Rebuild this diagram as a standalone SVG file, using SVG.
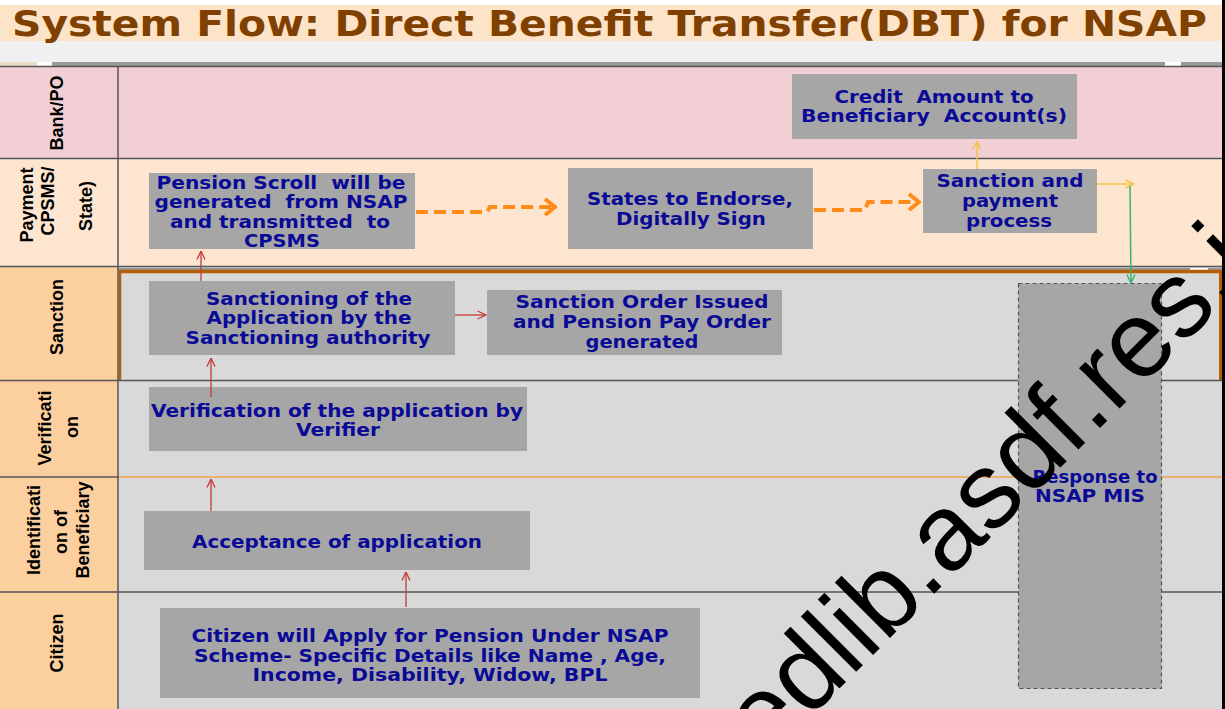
<svg xmlns="http://www.w3.org/2000/svg" width="1225" height="709" viewBox="0 0 1225 709">
<style>
.lbl{font-family:"Liberation Sans",Arial,sans-serif;font-weight:bold;font-size:18px;fill:#000;text-anchor:middle}
.box{fill:#a6a6a6}
.nt{font-family:"DejaVu Sans",Verdana,sans-serif;font-weight:bold;font-size:17px;fill:#0a0a96;text-anchor:middle;white-space:pre}
.sep{stroke:#555;stroke-width:1.5}
.red{fill:none;stroke:#c23b3b;stroke-width:1.3}
.org{fill:none;stroke:#ff8c1a;stroke-width:4;stroke-dasharray:12 6}
.yel{fill:none;stroke:#f5c342;stroke-width:1.5}
.grn{fill:none;stroke:#3cb371;stroke-width:1.5}
</style>
<defs>
<marker id="mRed" viewBox="0 0 10 10" refX="9.5" refY="5" markerWidth="10" markerHeight="10" markerUnits="userSpaceOnUse" orient="auto"><path d="M1,1 L9.5,5 L1,9" fill="none" stroke="#c23b3b" stroke-width="1.3"/></marker>
<marker id="mYel" viewBox="0 0 10 10" refX="9.5" refY="5" markerWidth="10" markerHeight="10" markerUnits="userSpaceOnUse" orient="auto"><path d="M1,1 L9.5,5 L1,9" fill="none" stroke="#f5c342" stroke-width="1.5"/></marker>
<marker id="mGrn" viewBox="0 0 10 10" refX="9.5" refY="5" markerWidth="10" markerHeight="10" markerUnits="userSpaceOnUse" orient="auto"><path d="M1,1 L9.5,5 L1,9" fill="none" stroke="#3cb371" stroke-width="1.5"/></marker>
<marker id="mOrg" viewBox="0 0 14 20" refX="12" refY="10" markerWidth="14" markerHeight="20" markerUnits="userSpaceOnUse" orient="auto"><path d="M2,2 L12,10 L2,18" fill="none" stroke="#ff8c1a" stroke-width="4" stroke-dasharray="none" stroke-linejoin="miter"/></marker>
</defs>

<!-- page background -->
<rect x="0" y="0" width="1225" height="709" fill="#ffffff"/>
<rect x="0" y="5" width="1222" height="36" fill="#fde3c8"/>
<rect x="0" y="41" width="1222" height="21" fill="#f0f0f0"/>
<rect x="0" y="62" width="1222" height="4" fill="#9a9a9a"/>
<rect x="0" y="62" width="37" height="4" fill="#e8dcc6"/>
<rect x="37" y="62" width="15" height="4" fill="#ffffff"/>
<rect x="1165" y="62" width="16" height="4" fill="#ffffff"/>
<text x="12" y="36" textLength="1195" lengthAdjust="spacingAndGlyphs" style="font-family:'DejaVu Sans',Verdana,sans-serif;font-weight:bold;font-size:36px;fill:#7f4000">System Flow: Direct Benefit Transfer(DBT) for NSAP</text>

<!-- lanes -->
<g id="lanes">
<rect x="0" y="66" width="1222" height="93" fill="#f2cfd4"/>
<rect x="0" y="159" width="1222" height="108" fill="#fde5cf"/>
<rect x="0" y="267" width="118" height="442" fill="#fccf9f"/>
<rect x="118" y="267" width="1104" height="442" fill="#d9d9d9"/>
<line class="sep" x1="0" y1="66.5" x2="1222" y2="66.5"/>
<line class="sep" x1="0" y1="158.5" x2="1222" y2="158.5"/>
<line class="sep" x1="0" y1="266.5" x2="1222" y2="266.5"/>
<rect x="118" y="268" width="1104" height="2" fill="#9a9a9a"/>
<rect x="1190" y="268" width="18" height="2" fill="#ffffff"/>
<line x1="119" y1="271.5" x2="1222" y2="271.5" stroke="#b45f06" stroke-width="3.5"/>
<line x1="120" y1="271" x2="120" y2="380" stroke="#b45f06" stroke-width="2.5"/>
<line x1="1220.5" y1="271" x2="1220.5" y2="380" stroke="#b45f06" stroke-width="3"/>
<line class="sep" x1="0" y1="380.5" x2="1222" y2="380.5"/>
<line class="sep" x1="0" y1="477" x2="118" y2="477"/>
<line x1="118" y1="477" x2="1222" y2="477" stroke="#f0a04b" stroke-width="1.5"/>
<line class="sep" x1="0" y1="592" x2="1222" y2="592"/>
<line class="sep" x1="118" y1="66" x2="118" y2="709"/>
<line x1="1223.5" y1="0" x2="1223.5" y2="709" stroke="#000" stroke-width="3"/>
</g>

<!-- lane labels -->
<g id="lane-labels">
<text class="lbl" transform="translate(63,113) rotate(-90)">Bank/PO</text>
<text class="lbl" transform="translate(33,205) rotate(-90)">Payment</text>
<text class="lbl" transform="translate(54,201) rotate(-90)">CPSMS/</text>
<text class="lbl" transform="translate(92,206) rotate(-90)">State)</text>
<text class="lbl" transform="translate(63,317) rotate(-90)">Sanction</text>
<text class="lbl" transform="translate(51,428) rotate(-90)">Verificati</text>
<text class="lbl" transform="translate(78,427) rotate(-90)">on</text>
<text class="lbl" transform="translate(40,530) rotate(-90)">Identificati</text>
<text class="lbl" transform="translate(67,532) rotate(-90)">on of</text>
<text class="lbl" transform="translate(89,530) rotate(-90)">Beneficiary</text>
<text class="lbl" transform="translate(63,643) rotate(-90)">Citizen</text>
</g>

<!-- nodes -->
<g id="credit">
<rect class="box" x="792" y="74" width="285" height="65"/>
<text class="nt" x="934" y="103" textLength="199" lengthAdjust="spacingAndGlyphs">Credit  Amount to</text>
<text class="nt" x="934" y="122" textLength="266" lengthAdjust="spacingAndGlyphs">Beneficiary  Account(s)</text>
</g>
<g id="pension-scroll">
<rect class="box" x="149" y="173" width="266" height="76"/>
<text class="nt" x="281" y="189" textLength="249" lengthAdjust="spacingAndGlyphs">Pension Scroll  will be</text>
<text class="nt" x="281" y="208" textLength="253" lengthAdjust="spacingAndGlyphs">generated  from NSAP</text>
<text class="nt" x="280" y="228" textLength="220" lengthAdjust="spacingAndGlyphs">and transmitted  to</text>
<text class="nt" x="282" y="247" textLength="76" lengthAdjust="spacingAndGlyphs">CPSMS</text>
</g>
<g id="states-endorse">
<rect class="box" x="568" y="168" width="245" height="81"/>
<text class="nt" x="690" y="205" textLength="206" lengthAdjust="spacingAndGlyphs">States to Endorse,</text>
<text class="nt" x="691" y="225" textLength="150" lengthAdjust="spacingAndGlyphs">Digitally Sign</text>
</g>
<g id="sanction-payment">
<rect class="box" x="923" y="169" width="174" height="64"/>
<text class="nt" x="1010" y="187" textLength="147" lengthAdjust="spacingAndGlyphs">Sanction and</text>
<text class="nt" x="1010" y="207" textLength="96" lengthAdjust="spacingAndGlyphs">payment</text>
<text class="nt" x="1009" y="227" textLength="86" lengthAdjust="spacingAndGlyphs">process</text>
</g>
<g id="sanctioning">
<rect class="box" x="149" y="281" width="306" height="74"/>
<text class="nt" x="309" y="305" textLength="206" lengthAdjust="spacingAndGlyphs">Sanctioning of the</text>
<text class="nt" x="309" y="324" textLength="205" lengthAdjust="spacingAndGlyphs">Application by the</text>
<text class="nt" x="308" y="344" textLength="245" lengthAdjust="spacingAndGlyphs">Sanctioning authority</text>
</g>
<g id="sanction-order">
<rect class="box" x="487" y="290" width="295" height="65"/>
<text class="nt" x="642" y="308" textLength="253" lengthAdjust="spacingAndGlyphs">Sanction Order Issued</text>
<text class="nt" x="642" y="328" textLength="258" lengthAdjust="spacingAndGlyphs">and Pension Pay Order</text>
<text class="nt" x="642" y="348" textLength="113" lengthAdjust="spacingAndGlyphs">generated</text>
</g>
<g id="verification">
<rect class="box" x="149" y="387" width="378" height="64"/>
<text class="nt" x="337" y="417" textLength="372" lengthAdjust="spacingAndGlyphs">Verification of the application by</text>
<text class="nt" x="338" y="436" textLength="84" lengthAdjust="spacingAndGlyphs">Verifier</text>
</g>
<g id="acceptance">
<rect class="box" x="144" y="511" width="386" height="59"/>
<text class="nt" x="337" y="548" textLength="290" lengthAdjust="spacingAndGlyphs">Acceptance of application</text>
</g>
<g id="citizen-apply">
<rect class="box" x="160" y="608" width="540" height="90"/>
<text class="nt" x="430" y="642" textLength="477" lengthAdjust="spacingAndGlyphs">Citizen will Apply for Pension Under NSAP</text>
<text class="nt" x="430" y="662" textLength="472" lengthAdjust="spacingAndGlyphs">Scheme- Specific Details like Name , Age,</text>
<text class="nt" x="430" y="681" textLength="355" lengthAdjust="spacingAndGlyphs">Income, Disability, Widow, BPL</text>
</g>
<g id="response-mis">
<rect x="1018.5" y="283.5" width="143" height="405" fill="#a6a6a6" stroke="#555" stroke-width="1.2" stroke-dasharray="4 3"/>
<text class="nt" x="1095" y="483" textLength="125" lengthAdjust="spacingAndGlyphs">Response to</text>
<text class="nt" x="1090" y="502" textLength="110" lengthAdjust="spacingAndGlyphs">NSAP MIS</text>
</g>

<!-- connectors -->
<g id="connectors">
<path class="red" d="M201,281 V251" marker-end="url(#mRed)"/>
<path class="red" d="M211,397 V358" marker-end="url(#mRed)"/>
<path class="red" d="M211,511 V479" marker-end="url(#mRed)"/>
<path class="red" d="M406,607 V572" marker-end="url(#mRed)"/>
<path class="red" d="M455,315 H486" marker-end="url(#mRed)"/>
<path class="org" d="M416,212 H487 L490,207 H555" marker-end="url(#mOrg)"/>
<path class="org" d="M814,210 H865 L868,202 H919" marker-end="url(#mOrg)"/>
<path class="yel" d="M977,169 V141" marker-end="url(#mYel)"/>
<path class="yel" d="M1097,184 H1134" marker-end="url(#mYel)"/>
<path class="grn" d="M1130,186 L1131,283" marker-end="url(#mGrn)"/>
</g>

<!-- watermark -->
<text transform="translate(766,762) rotate(-45)" style="font-family:'Liberation Sans',Arial,sans-serif;font-size:108px;fill:#000">edlib.asdf.res.i</text>
</svg>
